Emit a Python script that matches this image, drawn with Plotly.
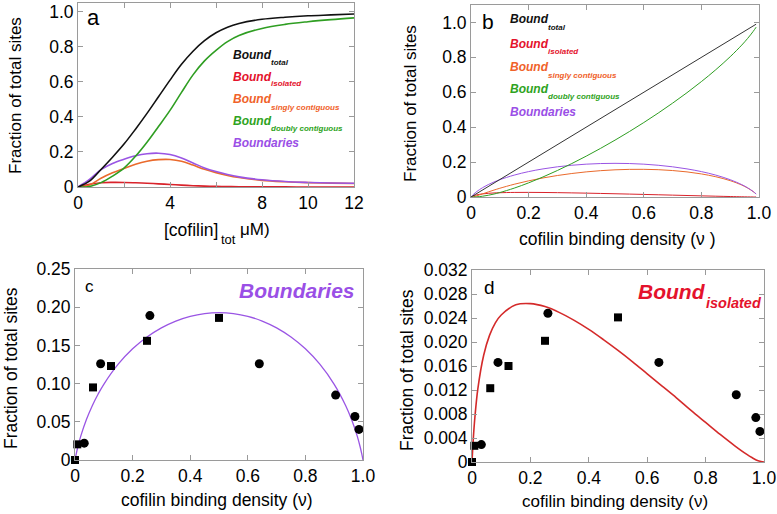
import plotly.graph_objects as go

W, H = 777, 514
FONT = "Liberation Sans, Arial, Helvetica, sans-serif"

# ---------------- data ----------------
# panel a: fractions vs total cofilin (uM)
conc_a = [0, 0.5, 1.0, 1.5, 2.0, 2.5, 3.0, 3.5, 4.0, 4.5, 5.0, 5.5, 6.0, 6.5, 7.0, 8.0, 9.0, 10.0, 11.0, 12.0]
total_a = [0, 0.033, 0.10, 0.17, 0.245, 0.33, 0.42, 0.515, 0.61, 0.70, 0.775, 0.835, 0.88, 0.912, 0.933, 0.957, 0.969, 0.977, 0.982, 0.987]
isol_a = [0, 0.0154, 0.0245, 0.0264, 0.026, 0.024, 0.0215, 0.018, 0.0143, 0.0107, 0.0075, 0.005, 0.0035, 0.0025, 0.0017, 0.0009, 0.0005, 0.0003, 0.0002, 0.0001]
sing_a = [0, 0.012, 0.05, 0.081, 0.106, 0.13, 0.147, 0.156, 0.157, 0.147, 0.125, 0.101, 0.082, 0.066, 0.054, 0.038, 0.030, 0.025, 0.022, 0.020]
doub_a = [0, 0.003, 0.025, 0.062, 0.108, 0.175, 0.255, 0.345, 0.437, 0.54, 0.64, 0.72, 0.78, 0.83, 0.865, 0.905, 0.928, 0.943, 0.955, 0.965]
bnd_a = [0, 0.043, 0.099, 0.134, 0.158, 0.178, 0.190, 0.193, 0.185, 0.165, 0.137, 0.109, 0.088, 0.071, 0.058, 0.041, 0.031, 0.026, 0.023, 0.021]

# panels b, c, d: fractions vs binding density
nu = [0, 0.005, 0.01, 0.02, 0.04, 0.06, 0.08, 0.1, 0.15, 0.2, 0.25, 0.3, 0.35, 0.4, 0.45, 0.5,
      0.55, 0.6, 0.65, 0.7, 0.75, 0.8, 0.85, 0.9, 0.94, 0.96, 0.98, 0.99, 0.995, 1.0]
total_nu = nu
isol_nu = [0, 0.0043, 0.0075, 0.0122, 0.0178, 0.0211, 0.0232, 0.0245, 0.0262, 0.0264, 0.0259, 0.0249, 0.0236, 0.0221, 0.0204, 0.0186,
           0.0167, 0.0147, 0.0127, 0.0107, 0.0086, 0.0066, 0.0046, 0.0027, 0.0013, 0.0007, 0.0002, 0.0001, 0.00002, 0]
sing_nu = [0, 0.0007, 0.0023, 0.0069, 0.0178, 0.0290, 0.0398, 0.0500, 0.0730, 0.0926, 0.1092, 0.1231, 0.1346, 0.1439, 0.1509, 0.1557,
           0.1583, 0.1586, 0.1565, 0.1516, 0.1438, 0.1322, 0.1161, 0.0936, 0.0684, 0.0519, 0.0307, 0.0172, 0.0092, 0]
doub_nu = [0, 0.00003, 0.0002, 0.0010, 0.0044, 0.0100, 0.0171, 0.0255, 0.0508, 0.0810, 0.1149, 0.1519, 0.1917, 0.2340, 0.2787, 0.3257,
           0.3750, 0.4266, 0.4808, 0.5377, 0.5976, 0.6612, 0.7293, 0.8037, 0.8702, 0.9074, 0.9491, 0.9728, 0.9858, 1.0]
bnd_nu = [0, 0.0092, 0.0173, 0.0312, 0.0533, 0.0711, 0.0861, 0.0991, 0.1254, 0.1455, 0.1610, 0.1730, 0.1819, 0.1881, 0.1917, 0.1929,
          0.1917, 0.1881, 0.1819, 0.1730, 0.1610, 0.1455, 0.1254, 0.0991, 0.0711, 0.0533, 0.0312, 0.0173, 0.0092, 0]
NB = 28  # panel b curves stop at nu = 0.99

# experimental points (squares and circles)
sq_nu = [0, 0.008, 0.0625, 0.125, 0.25, 0.5]
sq_bnd = [0, 0.0205, 0.095, 0.123, 0.156, 0.186]
sq_iso = [0, 0.0027, 0.0123, 0.0160, 0.0202, 0.0241]
ci_nu = [0.032, 0.089, 0.26, 0.64, 0.905, 0.972, 0.986]
ci_bnd = [0.022, 0.126, 0.189, 0.126, 0.085, 0.057, 0.040]
ci_iso = [0.0029, 0.0166, 0.0248, 0.0166, 0.0112, 0.0074, 0.0051]

# ticks
xa_ticks = [0, 2, 4, 6, 8, 10, 12]
xa_text = ["0", "", "4", "", "8", "10", "12"]
y1_ticks = [0, 0.2, 0.4, 0.6, 0.8, 1.0]
y1_text = ["0", "0.2", "0.4", "0.6", "0.8", "1.0"]
xn_ticks = [0, 0.2, 0.4, 0.6, 0.8, 1.0]
xn_text = ["0", "0.2", "0.4", "0.6", "0.8", "1.0"]
yc_ticks = [0, 0.05, 0.10, 0.15, 0.20, 0.25]
yc_text = ["0", "0.05", "0.10", "0.15", "0.20", "0.25"]
yd_ticks = [0, 0.004, 0.008, 0.012, 0.016, 0.020, 0.024, 0.028, 0.032]
yd_text = ["0", "0.004", "0.008", "0.012", "0.016", "0.020", "0.024", "0.028", "0.032"]

# ---------------- styles ----------------
C_BLACK = "#111111"
C_RED = "#d9232b"
C_ORANGE = "#ea6a2c"
C_GREEN = "#2f9e22"
C_PURPLE = "#9a55e4"
T_RED = "#e4122c"
T_ORANGE = "#f0622a"
T_GREEN = "#2ea322"
T_PURPLE = "#9a4fe6"
FRAME = "#9a9a9a"


def px(x):
    return x / W


def py(y):
    return 1 - y / H


fig = go.Figure()


def line(x, y, color, width, xa, ya, shape="spline"):
    fig.add_trace(go.Scatter(x=x, y=y, mode="lines", xaxis=xa, yaxis=ya,
                             line=dict(color=color, width=width, shape=shape, smoothing=1.0),
                             hoverinfo="skip", showlegend=False))


def pts(x, y, symbol, xa, ya, size):
    fig.add_trace(go.Scatter(x=x, y=y, mode="markers", xaxis=xa, yaxis=ya, cliponaxis=False,
                             marker=dict(symbol=symbol, size=size, color="black", line=dict(width=0)),
                             hoverinfo="skip", showlegend=False))


# panel a
line(conc_a, isol_a, C_RED, 1.6, "x", "y")
line(conc_a, sing_a, C_ORANGE, 1.6, "x", "y")
line(conc_a, bnd_a, C_PURPLE, 1.6, "x", "y")
line(conc_a, doub_a, C_GREEN, 1.6, "x", "y")
line(conc_a, total_a, C_BLACK, 1.6, "x", "y")

# panel b
line(nu[:NB], isol_nu[:NB], C_RED, 1.0, "x2", "y2")
line(nu[:NB], sing_nu[:NB], C_ORANGE, 1.0, "x2", "y2")
line(nu[:NB], bnd_nu[:NB], C_PURPLE, 1.0, "x2", "y2")
line(nu[:NB], doub_nu[:NB], C_GREEN, 1.0, "x2", "y2")
line(nu[:NB], total_nu[:NB], "#333333", 1.0, "x2", "y2", shape="linear")

# panel c
line(nu, bnd_nu, C_PURPLE, 1.3, "x3", "y3")
pts(ci_nu, ci_bnd, "circle", "x3", "y3", 9)
pts(sq_nu, sq_bnd, "square", "x3", "y3", 8)

# panel d
line(nu, isol_nu, "#d42a2a", 1.6, "x4", "y4")
pts(ci_nu, ci_iso, "circle", "x4", "y4", 9)
pts(sq_nu, sq_iso, "square", "x4", "y4", 8)


def axis(x0, x1, rng, tv, tt, anchor):
    return dict(domain=[x0, x1], range=rng, tickvals=tv, ticktext=tt, anchor=anchor,
                ticks="inside", ticklen=5, tickwidth=1, tickcolor=FRAME,
                showline=True, linecolor=FRAME, linewidth=1, mirror="ticks",
                showgrid=False, zeroline=False, fixedrange=True, automargin=False,
                tickfont=dict(family=FONT, size=17.5, color="black"))


fig.update_layout(
    template="none",
    width=W, height=H, margin=dict(l=0, r=0, t=0, b=0, autoexpand=False),
    paper_bgcolor="white", plot_bgcolor="white", showlegend=False,
    xaxis=axis(px(78), px(354), [0, 12], xa_ticks, xa_text, "y"),
    yaxis=axis(py(187), py(3), [0, 1.05], y1_ticks, y1_text, "x"),
    xaxis2=axis(px(471), px(759), [0, 1], xn_ticks, xn_text, "y2"),
    yaxis2=axis(py(197), py(5), [0, 1.1], y1_ticks, y1_text, "x2"),
    xaxis3=axis(px(75), px(363), [0, 1], xn_ticks, xn_text, "y3"),
    yaxis3=axis(py(460), py(269), [0, 0.25], yc_ticks, yc_text, "x3"),
    xaxis4=axis(px(472), px(764), [0, 1], xn_ticks, xn_text, "y4"),
    yaxis4=axis(py(462), py(270), [0, 0.032], yd_ticks, yd_text, "x4"),
)

ann = []


def text(x, y, s, size, color="black", xanchor="left", angle=0):
    ann.append(dict(x=px(x), y=py(y), xref="paper", yref="paper", text=s, showarrow=False,
                    xanchor=xanchor, yanchor="middle", textangle=angle,
                    font=dict(family=FONT, size=size, color=color)))


def bi(s):
    return "<b><i>" + s + "</i></b>"


# panel letters
text(93, 17.5, "a", 22, xanchor="center")
text(488, 22, "b", 21, xanchor="center")
text(89, 286.5, "c", 17, xanchor="center")
text(489, 287, "d", 19, xanchor="center")

# panel a labels
la = [(55, "total", C_BLACK), (76.5, "isolated", T_RED),
      (99.5, "singly contiguous", T_ORANGE), (121, "doubly contiguous", T_GREEN)]
for yy, sub, col in la:
    text(231, yy, bi("Bound"), 12, col)
    text(269, yy + 7.5, bi(sub), 8, col)
text(231, 142.5, bi("Boundaries"), 12, T_PURPLE)

# panel b labels
lb = [(19.5, "total", C_BLACK), (44, "isolated", T_RED),
      (67, "singly contiguous", T_ORANGE), (88.5, "doubly contiguous", T_GREEN)]
for yy, sub, col in lb:
    text(508, yy, bi("Bound"), 12, col)
    text(546, yy + 8, bi(sub), 8, col)
text(508, 112, bi("Boundaries"), 12, T_PURPLE)

# panel c / d big labels
text(237, 290.5, bi("Boundaries"), 21, T_PURPLE)
text(636, 291.5, bi("Bound"), 21, T_RED)
text(704, 303, bi("isolated"), 14.5, T_RED)

# axis titles
text(15, 96, "Fraction of total sites", 17, xanchor="center", angle=-90)
text(411, 104, "Fraction of total sites", 17, xanchor="center", angle=-90)
text(11, 368, "Fraction of total sites", 17.5, xanchor="center", angle=-90)
text(407, 370, "Fraction of total sites", 17.5, xanchor="center", angle=-90)

text(162, 230, "[cofilin]", 17.5)
text(219, 239, "tot", 13)
text(238, 230, "\u03bcM)", 17)
text(617, 239, "cofilin binding density (\u03bd )", 17.5, xanchor="center")
text(217, 500, "cofilin binding density (\u03bd)", 17.5, xanchor="center")
text(615, 501, "cofilin binding density (\u03bd)", 17, xanchor="center")

fig.update_layout(annotations=ann)
fig.write_html("out.html", config={"displayModeBar": False},
               post_script="document.body.style.margin='0px';document.body.style.overflow='hidden';")
